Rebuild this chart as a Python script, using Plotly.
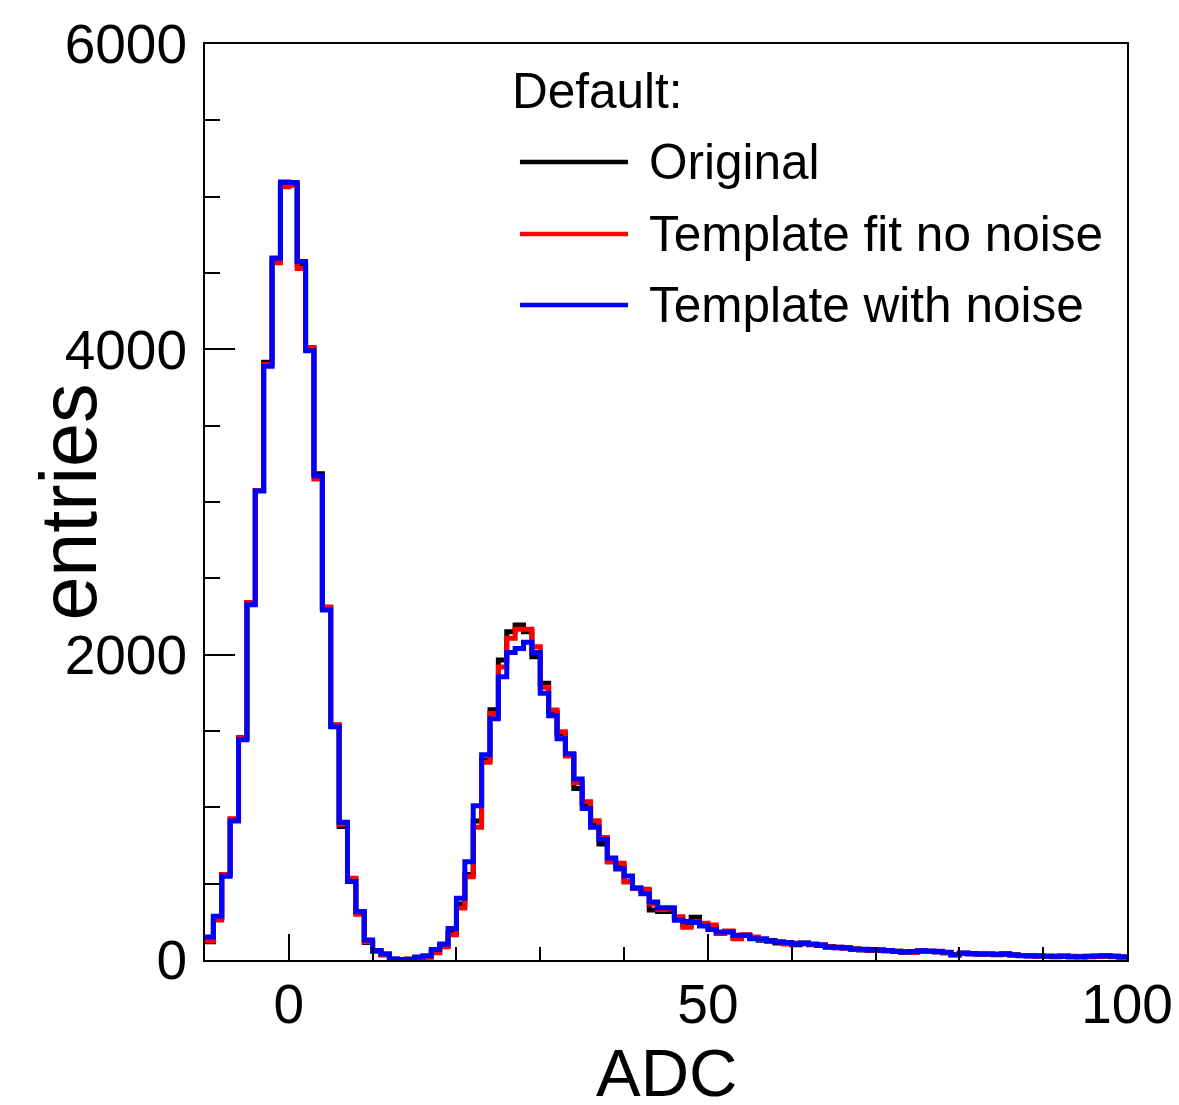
import plotly.graph_objects as go

# ADC histogram, 1 ADC per bin, bins start at -10 and end at 100
bin_low = list(range(-10, 100))

original = [
    120, 280, 560, 920, 1455, 2340, 3075, 3915, 4590, 5080,
    5080, 4550, 4010, 3185, 2310, 1540, 875, 530, 310, 114,
    60, 35, 5, 3, 5, 12, 22, 55, 95, 180,
    367, 560, 910, 1310, 1640, 1965, 2150, 2194, 2150, 1987,
    1812, 1625, 1480, 1345, 1124, 1020, 900, 760, 644, 620,
    513, 470, 455, 327, 317, 317, 275, 230, 280, 230,
    215, 175, 185, 150, 160, 145, 130, 128, 112, 110,
    100, 112, 100, 95, 88, 80, 78, 72, 66, 68,
    62, 60, 58, 50, 52, 58, 56, 52, 48, 36,
    44, 43, 38, 40, 35, 38, 35, 30, 26, 27,
    25, 22, 26, 21, 23, 22, 24, 26, 25, 19,
]

fit_no_noise = [
    125, 262, 560, 925, 1455, 2340, 3075, 3900, 4567, 5065,
    5075, 4530, 4010, 3150, 2310, 1540, 890, 535, 300, 120,
    55, 35, 5, 3, 6, 10, 18, 48, 87, 165,
    340, 545, 870, 1295, 1615, 1920, 2107, 2166, 2166, 2052,
    1786, 1637, 1495, 1336, 1161, 1037, 912, 803, 644, 633,
    513, 470, 463, 367, 330, 335, 284, 214, 250, 240,
    229, 175, 190, 140, 165, 150, 135, 122, 120, 105,
    110, 106, 102, 100, 86, 84, 79, 74, 68, 63,
    67, 60, 57, 54, 50, 60, 55, 57, 47, 35,
    45, 40, 41, 37, 38, 40, 32, 30, 29, 25,
    23, 25, 23, 24, 20, 25, 23, 27, 22, 21,
]

with_noise = [
    150, 286, 548, 910, 1443, 2327, 3072, 3889, 4598, 5096,
    5092, 4575, 3991, 3172, 2293, 1528, 902, 515, 317, 131,
    63, 41, 7, 4, 4, 20, 28, 68, 105, 207,
    404, 644, 1011, 1345, 1581, 1856, 2015, 2041, 2081, 2015,
    1747, 1600, 1450, 1351, 1186, 993, 869, 790, 668, 596,
    550, 472, 434, 380, 343, 343, 260, 253, 245, 223,
    199, 183, 183, 162, 162, 140, 140, 125, 118, 114,
    105, 109, 105, 98, 83, 83, 81, 70, 70, 65,
    65, 63, 55, 52, 55, 61, 59, 55, 50, 33,
    46, 41, 39, 39, 37, 41, 33, 28, 28, 26,
    24, 24, 24, 22, 22, 24, 26, 28, 24, 20,
]

series = [
    ("Original", original, "black"),
    ("Template fit no noise", fit_no_noise, "red"),
    ("Template with noise", with_noise, "blue"),
]

FONT = "Liberation Sans, Arial, Helvetica, sans-serif"

fig = go.Figure()
for name, vals, col in series:
    # step outline: left edges plus the last upper edge
    fig.add_trace(go.Scatter(
        x=bin_low + [bin_low[-1] + 1],
        y=vals + [vals[-1]],
        mode="lines",
        line=dict(color=col, width=5, shape="hv"),
        name=name,
        showlegend=False,
    ))

# hand-made legend, ROOT style
fig.add_annotation(x=0.331, y=0.9487, xref="paper", yref="paper",
                   text="Default:", showarrow=False, xanchor="left", yanchor="middle",
                   font=dict(size=49.5, color="black", family=FONT))
legend_y = [0.8712, 0.7926, 0.7151]
for (name, _, col), ly in zip(series, legend_y):
    fig.add_shape(type="line", xref="paper", yref="paper",
                  x0=0.3416, x1=0.4588, y0=ly, y1=ly,
                  line=dict(color=col, width=4.5))
    fig.add_annotation(x=0.4793, y=ly, xref="paper", yref="paper",
                       text=name, showarrow=False, xanchor="left", yanchor="middle",
                       font=dict(size=49.5, color="black", family=FONT))

# axis titles
fig.add_annotation(x=0.5, y=-0.123, xref="paper", yref="paper", text="ADC",
                   showarrow=False, xanchor="center", yanchor="middle",
                   font=dict(size=67, color="black", family=FONT))
fig.add_annotation(x=-0.149, y=0.5, xref="paper", yref="paper", text="entries",
                   textangle=-90, showarrow=False, xanchor="center", yanchor="middle",
                   font=dict(size=79, color="black", family=FONT))

fig.update_xaxes(
    range=[-10, 100], tick0=0, dtick=50,
    ticks="inside", ticklen=26, tickwidth=2, tickcolor="black",
    minor=dict(dtick=10, ticks="inside", ticklen=13, tickwidth=2, tickcolor="black"),
    showline=True, linecolor="black", linewidth=2, mirror=True,
    showgrid=False, zeroline=False, ticklabelstandoff=-5,
    tickfont=dict(size=55, color="black", family=FONT),
)
fig.update_yaxes(
    range=[0, 6000], tick0=0, dtick=2000,
    ticks="inside", ticklen=30, tickwidth=2, tickcolor="black",
    minor=dict(dtick=500, ticks="inside", ticklen=15, tickwidth=2, tickcolor="black"),
    showline=True, linecolor="black", linewidth=2, mirror=True,
    showgrid=False, zeroline=False, ticklabelstandoff=5,
    tickfont=dict(size=55, color="black", family=FONT),
)

# page body adds an 8px offset, so the figure is shrunk to fit the window
fig.update_layout(
    width=1171, height=1097,
    margin=dict(l=197, r=52, t=36, b=145, autoexpand=False),
    plot_bgcolor="white", paper_bgcolor="white",
    font=dict(family=FONT, color="black"),
)

fig.write_html("out.html")
